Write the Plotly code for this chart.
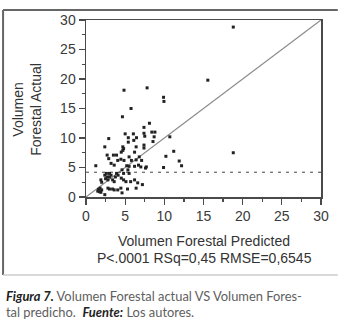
import plotly.graph_objects as go

# Data
predicted = [4.85, 7.8, 9.9, 9.95, 5.75, 4.65, 8.1, 7.4, 2.9, 5.0, 6.05, 5.4, 6.45, 7.4, 8.4, 8.8,
             8.7, 7.5, 10.7, 5.4, 6.1, 8.55, 7.4, 7.4, 2.4, 4.7, 4.8, 4.5, 6.4, 6.2, 3.9, 11.2,
             10.2, 2.7, 2.9, 4.05, 4.45, 4.85, 5.5, 5.8, 6.4, 6.8, 7.1, 11.9, 12.2, 9.9, 7.7, 7.0,
             3.2, 3.6, 1.25, 5.2, 5.5, 6.2, 6.7, 7.6, 2.6, 2.4, 2.7, 3.0, 3.2, 3.0, 2.5, 2.8,
             3.9, 4.1, 3.75, 4.6, 4.8, 5.35, 5.5, 1.9, 2.0, 3.4, 3.6, 4.5, 4.8, 5.1, 5.7, 6.2,
             6.6, 7.2, 2.8, 3.0, 3.4, 3.6, 4.05, 4.45, 5.3, 6.4, 4.6, 1.6, 1.8, 2.0, 1.7, 1.5,
             1.9, 2.4, 15.55, 18.8, 18.8, 3.5, 4.7]
actual = [18.1, 18.5, 16.9, 16.2, 15.0, 13.6, 12.5, 11.8, 9.9, 10.7, 10.7, 10.05, 10.05, 10.8, 11.0, 11.0,
          10.2, 10.3, 10.2, 9.3, 9.6, 9.4, 8.8, 8.3, 8.5, 8.5, 8.2, 7.6, 8.5, 7.6, 7.1, 7.75,
          6.9, 7.1, 6.5, 6.2, 6.4, 6.2, 6.8, 6.2, 6.3, 6.8, 6.2, 6.1, 5.3, 5.0, 5.1, 5.1,
          5.7, 5.4, 5.3, 5.3, 5.2, 5.2, 5.4, 4.9, 4.0, 3.7, 3.4, 4.0, 3.7, 3.4, 3.1, 2.9,
          4.0, 3.7, 3.4, 4.6, 4.0, 4.6, 4.0, 2.9, 2.5, 2.9, 2.6, 3.2, 2.9, 2.6, 2.6, 2.9,
          2.4, 2.1, 1.5, 1.35, 1.35, 1.2, 1.2, 1.5, 1.35, 1.5, 0.7, 1.3, 1.5, 1.2, 0.9, 1.0,
          0.8, 0.4, 19.8, 28.8, 7.5, 7.1, 7.9]
fit_x = [0, 30]
fit_y = [0, 30]
mean_actual = 4.2
tick_vals = [0, 5, 10, 15, 20, 25, 30]
x_title = "Volumen Forestal Predicted"
stats_text = "P<.0001 RSq=0,45 RMSE=0,6545"
y_title = "Volumen<br>Forestal Actual"

fig = go.Figure()
fig.add_trace(go.Scatter(x=fit_x, y=fit_y, mode="lines",
                         line=dict(color="#8a8a8a", width=1.2), hoverinfo="skip"))
fig.add_trace(go.Scatter(x=fit_x, y=[mean_actual, mean_actual], mode="lines",
                         line=dict(color="#444444", width=1, dash="3px,5px"), hoverinfo="skip"))
fig.add_trace(go.Scatter(x=predicted, y=actual, mode="markers",
                         marker=dict(symbol="square", size=3, color="#222222")))

axis_common = dict(range=[0, 30], tickvals=tick_vals, showgrid=False, zeroline=False,
                   showline=True, linecolor="#4a4a4a", linewidth=1.5, mirror=True,
                   ticks="outside", ticklen=6, tickcolor="#4a4a4a", tickwidth=1.3,
                   tickfont=dict(family="Liberation Sans, Arial", size=14, color="#3a3a3a"),
                   minor=dict(ticks="outside", ticklen=3, dtick=2.5, tickcolor="#4a4a4a", tickwidth=1.2))
fig.update_xaxes(**axis_common)
fig.update_yaxes(**axis_common)

W, H = 341, 324
L, R, T, B = 86, 17, 18, 127
pw, ph = W - L - R, H - T - B

def px(x):
    return (x - L) / pw

def py(y):
    return (H - B - y) / ph

annotations = [
    dict(text=x_title, x=px(205), y=py(241), xref="paper", yref="paper", showarrow=False,
         xanchor="center", yanchor="middle",
         font=dict(family="Liberation Sans, Arial", size=14, color="#333333")),
    dict(text=stats_text, x=px(206), y=py(259), xref="paper", yref="paper", showarrow=False,
         xanchor="center", yanchor="middle",
         font=dict(family="Liberation Sans, Arial", size=14, color="#333333")),
    dict(text=y_title, x=px(26), y=py(108), xref="paper", yref="paper", showarrow=False,
         textangle=-90, xanchor="center", yanchor="middle",
         font=dict(family="Liberation Sans, Arial", size=14, color="#333333")),
    dict(text="<b><i><span style='color:#222222'>Figura 7.</span></i></b> Volumen Forestal actual VS Volumen Fores-",
         x=px(3), y=py(297), xref="paper", yref="paper", showarrow=False,
         xanchor="left", yanchor="middle",
         font=dict(family="Lato", size=12.9, color="#606060")),
    dict(text="tal predicho.  <b><i><span style='color:#222222'>Fuente:</span></i></b> Los autores.",
         x=px(3), y=py(313), xref="paper", yref="paper", showarrow=False,
         xanchor="left", yanchor="middle",
         font=dict(family="Lato", size=12.9, color="#606060")),
]

shapes = [
    dict(type="line", xref="paper", yref="paper", x0=px(2), x1=px(341), y0=py(8), y1=py(8),
         line=dict(color="#666666", width=2)),
    dict(type="line", xref="paper", yref="paper", x0=px(2), x1=px(2), y0=py(8), y1=py(276),
         line=dict(color="#666666", width=2)),
    dict(type="line", xref="paper", yref="paper", x0=px(2), x1=px(341), y0=py(276), y1=py(276),
         line=dict(color="#cccccc", width=1.5)),
]

fig.update_layout(width=W, height=H, autosize=False, showlegend=False,
                  margin=dict(l=L, r=R, t=T, b=B, pad=0),
                  paper_bgcolor="white", plot_bgcolor="white",
                  annotations=annotations, shapes=shapes)

fig.write_html("out.html", config={"displayModeBar": False, "staticPlot": True},
               post_script="document.body.style.margin='0';document.body.style.overflow='hidden';")
